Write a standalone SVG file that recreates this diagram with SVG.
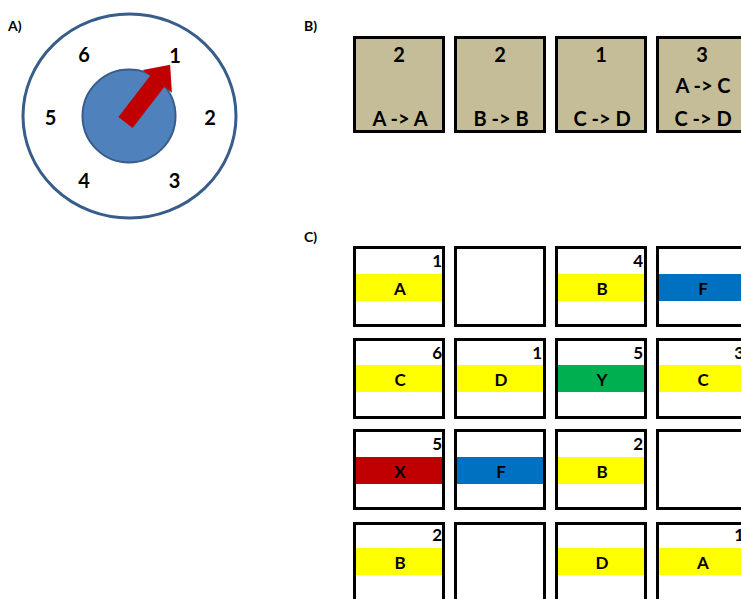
<svg xmlns="http://www.w3.org/2000/svg" width="741" height="599" viewBox="0 0 741 599">
<style>
text{font-family:Lato,"Open Sans","Liberation Sans",sans-serif;font-weight:bold;fill:#000}
.lbl{font-size:14px}
.dial{font-size:20px;text-anchor:middle}
.b{fill:#c4bd97;stroke:#000;stroke-width:3}
.bt{font-size:20px;text-anchor:middle}
.c{fill:none;stroke:#000;stroke-width:3}
.num{font-size:17px;text-anchor:end}
.let{font-size:17px;text-anchor:middle}
.y{fill:#ffff00}.bl{fill:#0070c0}.g{fill:#00b050}.r{fill:#c00000}
</style>
<rect width="741" height="599" fill="#fff"/>
<text class="lbl" x="8" y="31">A)</text>
<text class="lbl" x="304" y="31">B)</text>
<text class="lbl" x="304" y="242">C)</text>

<g id="dial">
<ellipse cx="129.5" cy="116" rx="106.5" ry="102" fill="#fff" stroke="#385d8a" stroke-width="3"/>
<circle cx="129" cy="116" r="46.5" fill="#4f81bd" stroke="#385d8a" stroke-width="2"/>
<polygon transform="translate(125.5,122.5) rotate(-52.3)" points="0,-9 52,-9 52,-18.5 73,0 52,18.5 52,9 0,9" fill="#c00000"/>
<text class="dial" x="84" y="62">6</text>
<text class="dial" x="175" y="63">1</text>
<text class="dial" x="50.5" y="125">5</text>
<text class="dial" x="210" y="125">2</text>
<text class="dial" x="84" y="188">4</text>
<text class="dial" x="174.5" y="188">3</text>
</g>

<g id="b1"><rect class="b" x="354.5" y="37.5" width="89" height="94"/><text class="bt" x="399" y="62">2</text><text class="bt" x="400" y="126">A -&gt; A</text></g>
<g id="b2"><rect class="b" x="455.5" y="37.5" width="89" height="94"/><text class="bt" x="500" y="62">2</text><text class="bt" x="501" y="126">B -&gt; B</text></g>
<g id="b3"><rect class="b" x="556.5" y="37.5" width="89" height="94"/><text class="bt" x="601" y="62">1</text><text class="bt" x="602" y="126">C -&gt; D</text></g>
<g id="b4"><rect class="b" x="657.5" y="37.5" width="89" height="94"/><text class="bt" x="702" y="62">3</text><text class="bt" x="703" y="93">A -&gt; C</text><text class="bt" x="703" y="126">C -&gt; D</text></g>

<!-- row 1 -->
<g id="c11"><rect class="y" x="353" y="274" width="92" height="27"/><rect class="c" x="354.5" y="247.5" width="89" height="78"/><text class="num" x="442" y="267">1</text><text class="let" x="400" y="295">A</text></g>
<g id="c12"><rect class="c" x="455.5" y="247.5" width="89" height="78"/></g>
<g id="c13"><rect class="y" x="555" y="274" width="92" height="27"/><rect class="c" x="556.5" y="247.5" width="89" height="78"/><text class="num" x="643" y="267">4</text><text class="let" x="602" y="295">B</text></g>
<g id="c14"><rect class="bl" x="656" y="274" width="92" height="27"/><rect class="c" x="657.5" y="247.5" width="89" height="78"/><text class="let" x="703" y="295">F</text></g>
<!-- row 2 -->
<g id="c21"><rect class="y" x="353" y="365" width="92" height="27"/><rect class="c" x="354.5" y="339.5" width="89" height="78"/><text class="num" x="442" y="359">6</text><text class="let" x="400" y="386">C</text></g>
<g id="c22"><rect class="y" x="454" y="365" width="92" height="27"/><rect class="c" x="455.5" y="339.5" width="89" height="78"/><text class="num" x="542" y="359">1</text><text class="let" x="501" y="386">D</text></g>
<g id="c23"><rect class="g" x="555" y="365" width="92" height="27"/><rect class="c" x="556.5" y="339.5" width="89" height="78"/><text class="num" x="643" y="359">5</text><text class="let" x="602" y="386">Y</text></g>
<g id="c24"><rect class="y" x="656" y="365" width="92" height="27"/><rect class="c" x="657.5" y="339.5" width="89" height="78"/><text class="num" x="744" y="359">3</text><text class="let" x="703" y="386">C</text></g>
<!-- row 3 -->
<g id="c31"><rect class="r" x="353" y="457" width="92" height="27"/><rect class="c" x="354.5" y="430.5" width="89" height="78"/><text class="num" x="442" y="450">5</text><text class="let" x="400" y="478">X</text></g>
<g id="c32"><rect class="bl" x="454" y="457" width="92" height="27"/><rect class="c" x="455.5" y="430.5" width="89" height="78"/><text class="let" x="501" y="478">F</text></g>
<g id="c33"><rect class="y" x="555" y="457" width="92" height="27"/><rect class="c" x="556.5" y="430.5" width="89" height="78"/><text class="num" x="643" y="450">2</text><text class="let" x="602" y="478">B</text></g>
<g id="c34"><rect class="c" x="657.5" y="430.5" width="89" height="78"/></g>
<!-- row 4 -->
<g id="c41"><rect class="y" x="353" y="548" width="92" height="27"/><rect class="c" x="354.5" y="523.5" width="89" height="78"/><text class="num" x="442" y="541">2</text><text class="let" x="400" y="569">B</text></g>
<g id="c42"><rect class="c" x="455.5" y="523.5" width="89" height="78"/></g>
<g id="c43"><rect class="y" x="555" y="548" width="92" height="27"/><rect class="c" x="556.5" y="523.5" width="89" height="78"/><text class="let" x="602" y="569">D</text></g>
<g id="c44"><rect class="y" x="656" y="548" width="92" height="27"/><rect class="c" x="657.5" y="523.5" width="89" height="78"/><text class="num" x="744" y="541">1</text><text class="let" x="703" y="569">A</text></g>
</svg>
